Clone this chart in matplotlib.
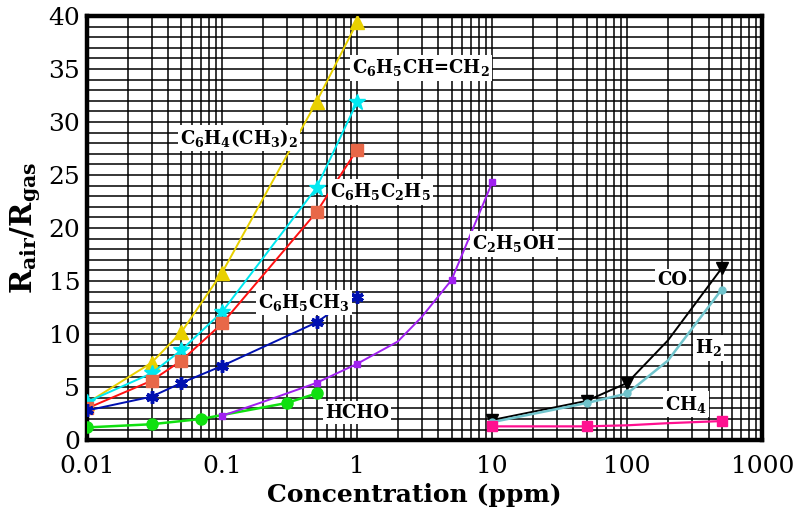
import numpy as np
import matplotlib
matplotlib.use("Agg")
import matplotlib.pyplot as plt
from matplotlib.ticker import FixedLocator, LogLocator, NullFormatter

plt.rcParams['font.family'] = ['DejaVu Serif']
plt.rcParams['mathtext.fontset'] = 'dejavuserif'

# data
xyl_x = [0.01, 0.03, 0.05, 0.1, 0.5, 1.0]
xyl_y = [3.5, 7.3, 10.2, 15.8, 31.9, 39.4]

sty_x = [0.01, 0.03, 0.05, 0.1, 0.5, 1.0]
sty_y = [3.6, 6.3, 8.5, 12.1, 23.8, 31.9]

eb_x = [0.01, 0.03, 0.05, 0.1, 0.5, 1.0]
eb_y = [3.0, 5.6, 7.5, 11.0, 21.5, 27.4]

tol_x = [0.01, 0.03, 0.05, 0.1, 0.5, 0.6]
tol_y = [2.8, 4.1, 5.4, 7.0, 11.1, 11.8]
tol_x_end = [1.0]
tol_y_end = [13.5]

hcho_x = [0.01, 0.03, 0.07, 0.3, 0.5]
hcho_y = [1.2, 1.5, 2.0, 3.5, 4.4]

etoh_x = [0.1, 0.2, 0.5, 1.0, 2.0, 3.0, 5.0, 10.0]
etoh_y = [2.3, 3.6, 5.4, 7.2, 9.3, 11.6, 15.1, 24.3]
etoh_marks = [0, 2, 3, 6, 7]

co_x = [10, 50, 100, 200, 500]
co_y = [1.9, 3.7, 5.4, 9.4, 16.2]
co_marks = [0, 1, 2, 4]

h2_x = [10, 50, 100, 200, 500]
h2_y = [1.7, 3.5, 4.4, 7.5, 14.2]
h2_marks = [0, 1, 2, 4]

ch4_x = [10, 50, 100, 200, 500]
ch4_y = [1.3, 1.3, 1.4, 1.6, 1.8]
ch4_marks = [0, 1, 4]

fig = plt.figure(figsize=(7.99, 5.13), dpi=100)
ax = fig.add_axes([0.109, 0.142, 0.845, 0.827])
ax.set_xscale('log')
ax.set_xlim(0.01, 1000)
ax.set_ylim(0, 40)

# grid
ax.yaxis.set_major_locator(FixedLocator(np.arange(0, 41, 5)))
ax.yaxis.set_minor_locator(FixedLocator(np.arange(0, 41, 1)))
ax.xaxis.set_major_locator(LogLocator(base=10))
ax.xaxis.set_minor_locator(LogLocator(base=10, subs=np.arange(2, 10)))
ax.xaxis.set_minor_formatter(NullFormatter())
ax.grid(True, which='both', color='black', lw=1.1, zorder=0)
ax.set_axisbelow(True)
ax.tick_params(which='both', length=0, labelsize=18)
ax.tick_params(axis='x', pad=11)
ax.tick_params(axis='y', pad=5)
ax.set_xticks([0.01, 0.1, 1, 10, 100, 1000])
ax.set_xticklabels(['0.01', '0.1', '1', '10', '100', '1000'])
for s in ax.spines.values():
    s.set_linewidth(3.2)

ax.plot(xyl_x, xyl_y, color='#e8d000', lw=1.4, marker='^', ms=10, zorder=3)
ax.plot(sty_x, sty_y, color='#00e8f0', lw=1.4, marker='*', ms=12, zorder=3)
ax.plot(eb_x, eb_y, color='#ff1010', lw=1.4, marker='s', ms=8,
        mfc='#e86848', mec='#e86848', zorder=3)
ax.plot(tol_x, tol_y, color='#0010b0', lw=1.4, marker=(6, 2, 0), ms=9, mew=2.5,
        markevery=[0, 1, 2, 3, 4], zorder=3)
ax.plot(tol_x_end, tol_y_end, ls='none', color='#0010b0', marker=(6, 2, 0), ms=9, mew=2.5, zorder=3)
ax.plot(hcho_x, hcho_y, color='#10e010', lw=1.8, marker='o', ms=8, zorder=3)
ax.plot(etoh_x, etoh_y, color='#a020f0', lw=1.4, marker='s', ms=5,
        markevery=etoh_marks, zorder=3)
ax.plot(co_x, co_y, color='black', lw=1.4, marker='v', ms=9, markevery=co_marks, zorder=3)
ax.plot(h2_x, h2_y, color='#70c4cc', lw=1.8, marker='o', ms=5, markevery=h2_marks, zorder=3)
ax.plot(ch4_x, ch4_y, color='#ff1090', lw=1.6, marker='s', ms=7, markevery=ch4_marks, zorder=3)

box = dict(facecolor='white', edgecolor='none', pad=1.5)
labels = [
    (0.92, 35.1, r'C$_\mathbf{6}$H$_\mathbf{5}$CH=CH$_\mathbf{2}$'),
    (0.049, 28.5, r'C$_\mathbf{6}$H$_\mathbf{4}$(CH$_\mathbf{3}$)$_\mathbf{2}$'),
    (0.63, 23.4, r'C$_\mathbf{6}$H$_\mathbf{5}$C$_\mathbf{2}$H$_\mathbf{5}$'),
    (0.185, 13.0, r'C$_\mathbf{6}$H$_\mathbf{5}$CH$_\mathbf{3}$'),
    (0.58, 2.6, 'HCHO'),
    (7.1, 18.5, r'C$_\mathbf{2}$H$_\mathbf{5}$OH'),
    (166, 15.1, 'CO'),
    (316, 8.7, r'H$_\mathbf{2}$'),
    (190, 3.4, r'CH$_\mathbf{4}$'),
]
for x, y, t in labels:
    ax.text(x, y, t, fontsize=13, fontweight='bold', ha='left', va='center',
            bbox=box, zorder=4)

ax.set_xlabel('Concentration (ppm)', fontsize=18, fontweight='bold')
ax.xaxis.set_label_coords(0.485, -0.1)
ax.set_ylabel(r'R$_\mathbf{air}$/R$_\mathbf{gas}$', fontsize=21, fontweight='bold', labelpad=4)

fig.savefig('out.png', dpi=100)
